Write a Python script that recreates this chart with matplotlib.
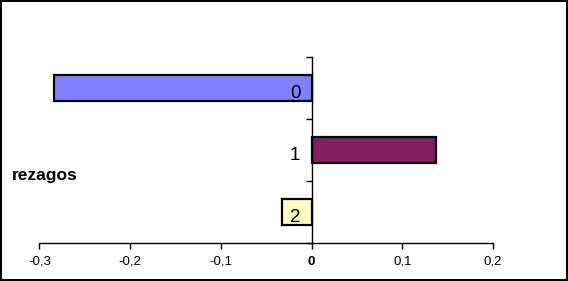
import matplotlib
matplotlib.use('Agg')
import matplotlib.pyplot as plt
from matplotlib.ticker import FuncFormatter
from matplotlib.transforms import ScaledTranslation

# lag labels and coefficient values
rezagos = ['0', '1', '2']
valores = [-0.284, 0.137, -0.033]
colores = ['#8080FF', '#802060', '#FFFFC0']
xticks = [-0.3, -0.2, -0.1, 0, 0.1, 0.2]

plt.rcParams['font.family'] = ['Liberation Sans', 'DejaVu Sans']

fig = plt.figure(figsize=(5.68, 2.81), dpi=100)
fig.patch.set_edgecolor('black')
fig.patch.set_linewidth(1.5)
ax = fig.add_axes([0.0695, 0.135, 0.7985, 0.662])

pos = list(range(len(rezagos)))
ax.barh(pos, valores, height=0.42, color=colores, edgecolor='black', linewidth=1.6, zorder=1)

ax.set_xlim(-0.3, 0.2)
ax.set_ylim(2.5, -0.5)
ax.set_xticks(xticks)

def coma(v, p):
    if abs(v) < 1e-9:
        return '0'
    return ('%.1f' % v).replace('.', ',')
ax.xaxis.set_major_formatter(FuncFormatter(coma))
ax.tick_params(axis='x', length=4, width=1, labelsize=9.5, pad=5)
for lab in ax.get_xticklabels():
    if lab.get_text() == '0':
        lab.set_fontweight('bold')

ax.spines['left'].set_position(('data', 0))
ax.spines['top'].set_visible(False)
ax.spines['right'].set_visible(False)
ax.spines['left'].set_linewidth(1)
ax.spines['bottom'].set_linewidth(1)

ax.set_yticks(pos)
ax.set_yticklabels(rezagos, fontsize=13.5)
ax.tick_params(axis='y', which='major', length=0, pad=8)
ax.set_yticks([-0.5, 0.5, 1.5, 2.5], minor=True)
ax.tick_params(axis='y', which='minor', length=4, width=1)
# nudge the lag labels a little downward, as in the original
shift = ScaledTranslation(0, -3 / 100, fig.dpi_scale_trans)
for lab in ax.get_yticklabels():
    lab.set_transform(lab.get_transform() + shift)

fig.text(0.021, 0.375, 'rezagos', fontsize=12.5, fontweight='bold', va='center', ha='left')

fig.savefig('out.png', dpi=100)
